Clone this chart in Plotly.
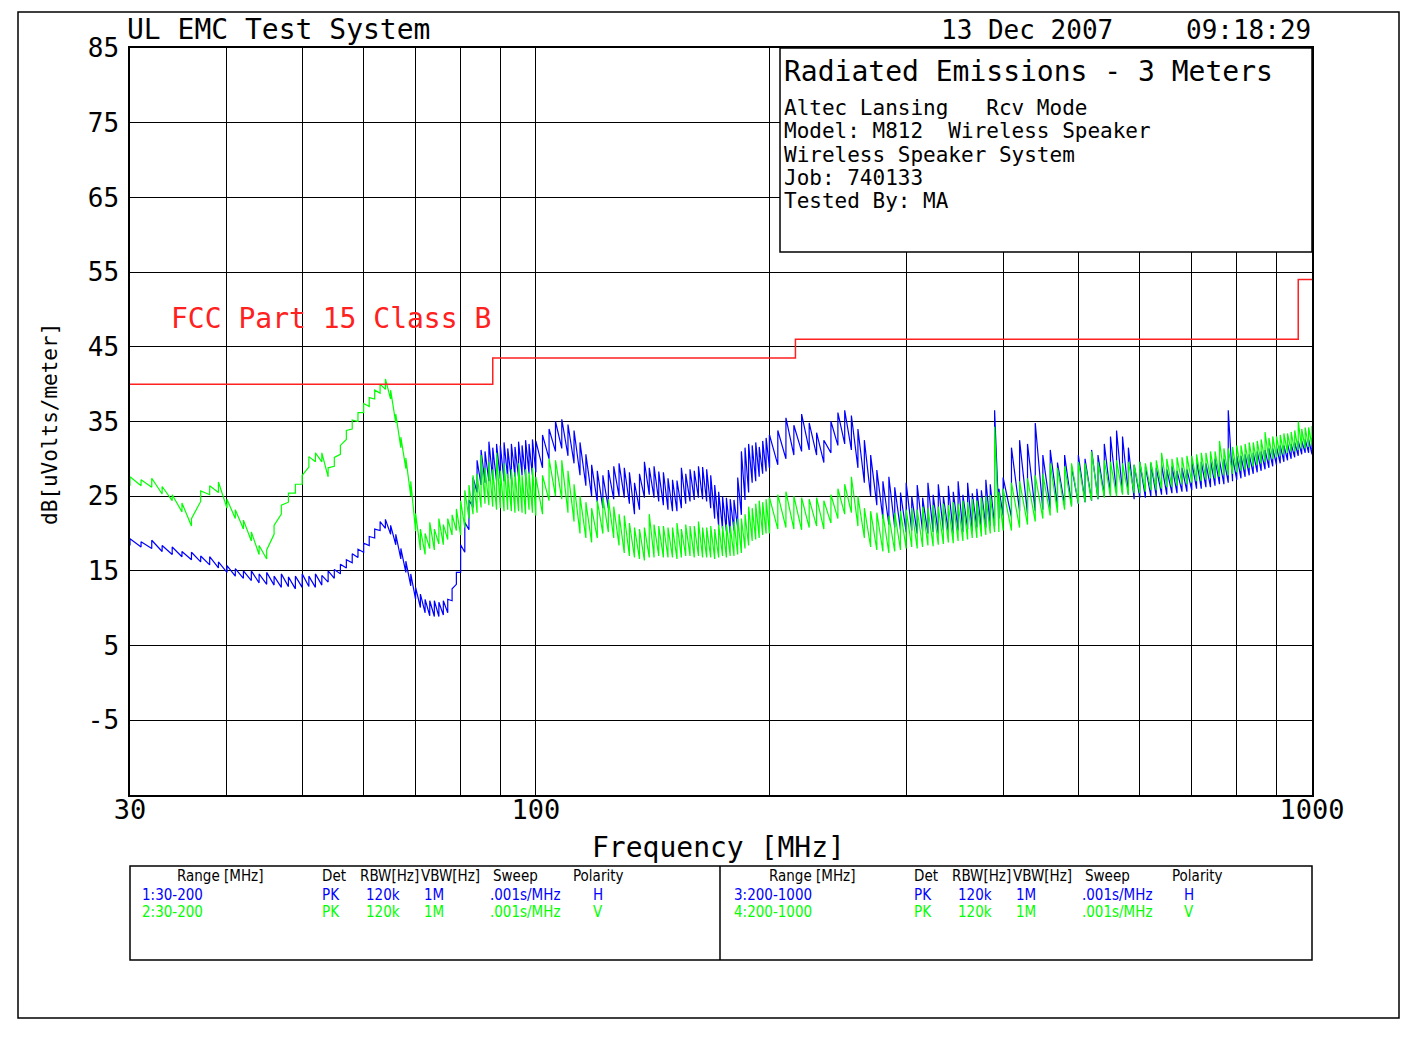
import plotly.graph_objects as go

# ---------------- DATA ----------------
# Range 1/2 : 30-200 MHz sweep (peak detector, min/max per frequency bin)
freq_low = [30, 31, 32, 33, 34, 35, 36, 37, 38, 39,
            40, 41, 42, 43, 44, 45, 46, 47, 48, 49,
            50, 51, 52, 53, 54, 55, 56, 57, 58, 59,
            60, 61, 62, 63, 64, 65, 66, 67, 68, 69,
            70, 71, 72, 73, 74, 75, 76, 77, 78, 79,
            80, 81, 82, 83, 84, 85, 86, 87, 88, 89,
            90, 91, 92, 93, 94, 95, 96, 97, 98, 99, 100,
            102, 104, 106, 108, 110, 112, 114, 116, 118, 120,
            122, 124, 126, 128, 130, 132, 134, 136, 138, 140,
            142, 144, 146, 148, 150, 152, 154, 156, 158, 160,
            162, 164, 166, 168, 170, 172, 174, 176, 178, 180,
            182, 184, 186, 188, 190, 192, 194, 196, 198, 200]

blue_low_max = [19.3, 18.9, 19.1, 18.4, 18.2, 17.6, 17.5, 17.0, 16.9, 16.2,
                15.7, 15.3, 15.0, 15.0, 14.6, 14.8, 14.3, 14.6, 14.2, 14.3,
                14.6, 14.3, 14.6, 14.4, 15.0, 15.2, 15.9, 16.5, 17.3, 17.9,
                18.7, 19.6, 20.6, 21.6, 21.9, 21.1, 19.9, 18.0, 16.3, 14.6,
                12.8, 11.9, 11.2, 11.0, 11.0, 10.8, 11.0, 11.2, 12.6, 14.8,
                18.5, 21.5, 24.5, 27.5, 29.8, 31.2, 31.0, 32.3, 31.5, 32.0,
                31.8, 32.2, 31.4, 32.0, 31.6, 32.3, 31.8, 32.5, 32.0, 32.6, 32.4,
                33.2, 34.0, 35.0, 35.3, 34.6, 33.8, 32.2, 30.6, 29.2, 28.4,
                27.8, 28.5, 29.0, 29.4, 28.8, 28.2, 26.8, 28.0, 29.6, 28.8,
                29.0, 28.3, 28.2, 27.4, 27.2, 27.1, 28.8, 28.0, 28.6, 28.4,
                29.0, 28.9, 28.6, 27.8, 26.5, 25.6, 25.0, 24.8, 24.6, 24.5,
                27.5, 31.0, 31.5, 32.0, 31.8, 32.2, 31.6, 32.4, 32.8, 33.2]

blue_low_min = [18.4, 18.2, 18.0, 17.6, 17.2, 16.9, 16.5, 16.2, 15.8, 15.4,
                14.8, 14.3, 14.0, 13.7, 13.4, 13.2, 13.1, 12.8, 12.9, 12.6,
                12.8, 12.9, 12.8, 13.1, 13.5, 14.0, 14.6, 15.4, 16.1, 16.8,
                17.5, 18.4, 19.4, 20.4, 20.7, 19.9, 18.5, 16.6, 14.8, 13.0,
                11.2, 10.1, 9.4, 9.0, 8.9, 8.9, 9.1, 9.4, 11.0, 13.2,
                14.8, 17.5, 20.5, 23.5, 25.5, 26.5, 26.8, 27.0, 27.2, 27.0,
                27.3, 27.0, 27.4, 27.2, 27.6, 27.5, 27.8, 27.6, 28.0, 27.8, 28.2,
                28.8, 30.0, 31.0, 31.4, 30.4, 29.4, 27.8, 26.4, 25.0, 24.2,
                23.4, 23.4, 24.6, 25.0, 24.8, 24.0, 22.6, 23.2, 24.8, 25.2,
                24.8, 24.3, 23.8, 23.2, 23.0, 23.0, 23.4, 24.0, 24.3, 24.5,
                24.8, 24.6, 24.3, 23.4, 22.0, 21.0, 20.6, 20.3, 20.0, 20.4,
                20.8, 22.5, 24.5, 25.5, 26.8, 27.0, 27.6, 28.0, 28.3, 28.8]

green_low_max = [27.6, 27.2, 27.4, 26.3, 25.2, 24.1, 22.0, 25.7, 26.4, 26.9,
                 24.6, 23.2, 21.8, 20.2, 18.4, 17.8, 21.1, 23.8, 25.4, 26.6,
                 27.8, 30.3, 30.8, 30.8, 28.8, 30.2, 31.8, 33.8, 35.2, 36.2,
                 37.4, 38.2, 39.2, 40.0, 40.7, 39.2, 36.0, 32.9, 30.1, 27.0,
                 22.7, 20.6, 20.0, 21.5, 20.6, 22.0, 21.2, 22.0, 22.5, 23.3,
                 24.4, 25.8, 26.5, 27.8, 28.0, 30.5, 28.8, 29.6, 28.6, 30.8,
                 28.4, 29.4, 28.0, 28.6, 28.2, 29.4, 27.8, 28.6, 28.2, 28.8, 27.6,
                 27.8, 30.0, 29.8, 29.8, 28.4, 26.6, 25.0, 24.2, 23.4, 24.4,
                 24.8, 24.6, 23.6, 22.6, 22.4, 21.4, 20.8, 20.6, 20.8, 22.6,
                 21.2, 21.0, 21.0, 20.8, 20.8, 21.4, 20.6, 21.2, 21.0, 21.0,
                 21.6, 20.8, 20.8, 21.0, 20.6, 21.2, 21.0, 21.2, 21.0, 21.6,
                 22.0, 22.0, 22.6, 23.6, 23.4, 24.0, 24.4, 24.2, 24.6, 24.8]

green_low_min = [26.4, 26.4, 26.2, 25.3, 24.4, 22.9, 21.0, 24.3, 25.2, 25.5,
                 23.4, 22.0, 20.6, 19.0, 17.2, 16.6, 19.9, 22.6, 24.2, 25.4,
                 26.6, 28.9, 29.6, 29.6, 27.6, 29.0, 30.6, 32.6, 34.0, 35.0,
                 36.2, 37.0, 38.0, 38.8, 39.3, 38.0, 34.8, 31.5, 28.7, 25.0,
                 20.3, 17.8, 17.2, 18.0, 17.8, 18.6, 18.5, 19.2, 19.8, 20.4,
                 19.8, 20.8, 22.0, 22.6, 22.8, 23.5, 24.0, 23.8, 23.6, 23.2,
                 23.4, 23.0, 23.2, 23.0, 22.8, 23.0, 22.8, 22.6, 23.2, 22.8, 22.4,
                 22.6, 24.4, 25.0, 24.6, 22.8, 21.6, 20.0, 19.4, 18.8, 19.4,
                 20.0, 20.2, 19.4, 18.4, 17.4, 17.0, 16.8, 16.6, 16.4, 16.8,
                 16.8, 17.0, 16.8, 16.8, 16.8, 16.6, 16.8, 17.0, 17.0, 16.8,
                 17.0, 16.8, 16.8, 16.8, 16.6, 16.8, 17.0, 16.8, 17.0, 17.0,
                 17.2, 17.4, 18.0, 18.4, 19.0, 19.2, 19.4, 19.8, 20.0, 20.0]

# Range 3/4 : 200-1000 MHz sweep
freq_high = [200, 205, 210, 215, 220, 225, 230, 235, 240, 245,
             250, 255, 260, 265, 270, 275, 280, 285, 290, 295,
             300, 305, 310, 315, 320, 325, 330, 335, 340, 345,
             350, 355, 360, 365, 370, 375, 380, 385, 390, 395, 400,
             410, 420, 430, 440, 450, 460, 470, 480, 490, 500,
             510, 520, 530, 540, 550, 560, 570, 580, 590, 600,
             610, 620, 630, 640, 650, 660, 670, 680, 690, 700,
             710, 720, 730, 740, 750, 760, 770, 780, 790, 800,
             810, 820, 830, 840, 850, 860, 870, 880, 890, 900,
             910, 920, 930, 940, 950, 960, 970, 980, 990, 1000]

blue_high_max = [33.2, 33.8, 35.5, 34.5, 36.0, 34.8, 33.5, 32.5, 35.0, 36.2,
                 36.5, 35.8, 34.0, 32.5, 30.5, 28.5, 27.0, 27.6, 26.2, 25.5,
                 26.8, 25.0, 26.5, 24.8, 26.8, 25.2, 26.6, 25.0, 26.4, 25.6,
                 27.0, 25.2, 26.8, 25.4, 26.0, 25.8, 27.2, 26.6, 36.5, 26.0, 27.5,
                 31.5, 32.5, 32.0, 34.8, 30.5, 31.2, 29.5, 30.5, 29.0, 30.5,
                 30.0, 31.2, 30.5, 32.0, 33.0, 33.8, 33.0, 31.5, 29.2, 29.6,
                 29.0, 29.4, 28.8, 29.2, 28.6, 29.0, 28.4, 28.8, 28.6, 29.6,
                 29.8, 29.6, 29.4, 29.8, 30.0, 29.8, 30.0, 36.5, 30.2, 30.4,
                 30.4, 30.6, 30.6, 30.8, 31.0, 31.0, 31.2, 31.4, 31.4, 31.6,
                 31.8, 31.8, 32.0, 32.0, 32.2, 32.4, 32.4, 32.6, 32.6, 32.8]

blue_high_min = [28.8, 29.2, 30.0, 30.5, 31.0, 31.2, 30.5, 29.5, 30.8, 31.8,
                 32.0, 31.2, 28.8, 26.8, 25.0, 23.8, 22.0, 21.2, 20.8, 20.5,
                 20.2, 20.4, 20.0, 20.3, 20.0, 20.2, 20.0, 20.4, 20.2, 20.0,
                 20.4, 20.2, 20.6, 20.3, 20.8, 20.5, 20.8, 21.0, 21.0, 22.0, 22.4,
                 22.2, 23.0, 22.6, 23.0, 23.2, 23.4, 23.6, 23.8, 23.8, 24.0,
                 24.2, 24.4, 24.6, 25.0, 25.2, 25.4, 25.4, 25.2, 24.6, 24.8,
                 24.8, 25.0, 25.0, 25.2, 25.2, 25.4, 25.4, 25.6, 25.6, 25.8,
                 26.0, 26.0, 26.2, 26.2, 26.4, 26.6, 26.6, 26.8, 27.0, 27.2,
                 27.4, 27.6, 27.8, 28.0, 28.2, 28.4, 28.6, 28.8, 29.0, 29.2,
                 29.4, 29.6, 29.8, 30.0, 30.2, 30.4, 30.6, 30.8, 30.8, 30.6]

green_high_max = [24.8, 25.2, 25.6, 25.0, 24.8, 24.6, 24.8, 24.4, 25.2, 26.0,
                  26.6, 27.6, 25.0, 23.4, 23.0, 22.8, 22.6, 22.4, 22.8, 23.0,
                  23.2, 23.4, 23.2, 23.6, 23.4, 23.8, 23.6, 24.0, 23.8, 24.2,
                  24.0, 24.4, 24.2, 24.6, 24.4, 24.8, 25.0, 25.2, 34.3, 25.6, 26.0,
                  26.8, 27.0, 27.4, 27.8, 28.0, 29.4, 28.8, 29.0, 29.4, 29.6,
                  29.4, 31.0, 29.6, 29.8, 29.6, 29.8, 29.4, 29.6, 29.2, 29.6,
                  29.4, 29.6, 29.8, 30.8, 30.0, 30.0, 30.2, 30.2, 30.4, 30.4,
                  30.6, 30.8, 30.8, 31.0, 31.0, 32.4, 31.4, 31.4, 31.6, 31.8,
                  31.8, 32.0, 32.2, 32.2, 32.4, 32.6, 33.6, 32.8, 33.0, 33.0,
                  33.2, 33.4, 33.4, 33.6, 33.8, 35.0, 34.0, 34.2, 34.2, 34.4]

green_high_min = [20.4, 20.6, 20.8, 20.6, 20.5, 20.8, 21.0, 20.6, 21.4, 22.0,
                  22.6, 22.8, 21.0, 19.4, 18.2, 17.8, 17.6, 17.4, 17.6, 17.8,
                  18.0, 18.2, 18.0, 18.2, 18.4, 18.3, 18.5, 18.6, 18.8, 18.7,
                  19.0, 19.0, 19.2, 19.4, 19.4, 19.6, 19.8, 20.0, 20.2, 20.2, 20.4,
                  20.4, 20.8, 21.2, 21.6, 22.0, 22.4, 22.8, 23.2, 23.6, 24.0,
                  24.2, 24.4, 24.6, 24.8, 25.0, 25.0, 25.2, 25.2, 25.4, 25.4,
                  25.6, 25.8, 25.8, 26.0, 26.2, 26.2, 26.4, 26.6, 26.6, 26.8,
                  27.0, 27.0, 27.2, 27.4, 27.4, 27.6, 27.8, 27.8, 28.0, 28.2,
                  28.4, 28.6, 28.8, 29.0, 29.2, 29.4, 29.6, 29.8, 30.0, 30.2,
                  30.4, 30.6, 30.8, 31.0, 31.0, 31.2, 31.4, 31.4, 31.6, 31.8]

# FCC Part 15 Class B limit (step function)
limit_freq = [30, 88, 216, 960, 1000]
limit_level = [40, 43.5, 46, 54, 54]

y_tick_vals = [85, 75, 65, 55, 45, 35, 25, 15, 5, -5]
y_tick_text = ["85", "75", "65", "55", "45", "35", "25", "15", "5", "-5"]
x_tick_vals = [30, 40, 50, 60, 70, 80, 90, 100, 200, 300, 400, 500, 600, 700, 800, 900, 1000]
x_tick_text = ["30", "", "", "", "", "", "", "100", "", "", "", "", "", "", "", "", "1000"]

info_lines = ["Altec Lansing   Rcv Mode", "Model: M812  Wireless Speaker",
              "Wireless Speaker System", "Job: 740133", "Tested By: MA"]

table_header = ["Range [MHz]", "Det", "RBW[Hz]", "VBW[Hz]", "Sweep", "Polarity"]
table_rows_left = [["1:30-200", "PK", "120k", "1M", ".001s/MHz", "H"],
                   ["2:30-200", "PK", "120k", "1M", ".001s/MHz", "V"]]
table_rows_right = [["3:200-1000", "PK", "120k", "1M", ".001s/MHz", "H"],
                    ["4:200-1000", "PK", "120k", "1M", ".001s/MHz", "V"]]

# ---------------- LAYOUT HELPERS ----------------
OFF = 8                      # page body margin of the html page
L, R, T, B = 130, 1312, 48, 795   # plot area in page pixels
W, H = 1421 - 2 * OFF, 1060 - 2 * OFF


def px(x):
    return (x - L) / (R - L)


def py(y):
    return (B - y) / (B - T)


def minmax_path(freqs, lo, hi):
    # each frequency bin drawn as a vertical stroke from its min to its max
    xs, ys = [], []
    for f, a, b in zip(freqs, lo, hi):
        xs += [f, f]
        ys += [a, b]
    return xs, ys


MONO = "DejaVu Sans Mono"
NARROW = "Liberation Sans Narrow, DejaVu Sans Condensed, Arial Narrow, sans-serif"
BLUE = "#0000FF"
GREEN = "#00FF00"
RED = "#FF2020"

fig = go.Figure()
for f, lo, hi, col in [(freq_low, blue_low_min, blue_low_max, BLUE),
                       (freq_low, green_low_min, green_low_max, GREEN),
                       (freq_high, blue_high_min, blue_high_max, BLUE),
                       (freq_high, green_high_min, green_high_max, GREEN)]:
    xs, ys = minmax_path(f, lo, hi)
    fig.add_trace(go.Scatter(x=xs, y=ys, mode="lines",
                             line=dict(color=col, width=1.2), showlegend=False))
fig.add_trace(go.Scatter(x=limit_freq, y=limit_level, mode="lines",
                         line=dict(color=RED, width=1.5, shape="hv"), showlegend=False))

shapes = []
shapes.append(dict(type="rect", xref="paper", yref="paper",
                   x0=px(18), x1=px(1399), y0=py(1018), y1=py(12),
                   line=dict(color="black", width=1.5), layer="above"))
shapes.append(dict(type="rect", xref="paper", yref="paper",
                   x0=px(780), x1=px(1312), y0=py(252), y1=py(48),
                   line=dict(color="black", width=1.5), fillcolor="white", layer="above"))
shapes.append(dict(type="rect", xref="paper", yref="paper",
                   x0=px(130), x1=px(1312), y0=py(960), y1=py(866),
                   line=dict(color="black", width=1.5), layer="above"))
shapes.append(dict(type="line", xref="paper", yref="paper",
                   x0=px(720), x1=px(720), y0=py(960), y1=py(866),
                   line=dict(color="black", width=1.5), layer="above"))

ann = []


def text(x, y, s, size, color="black", font=MONO, xanchor="left", angle=0):
    ann.append(dict(x=px(x), y=py(y), xref="paper", yref="paper", text=s,
                    showarrow=False, xanchor=xanchor, yanchor="middle",
                    textangle=angle, borderpad=0,
                    font=dict(family=font, size=size, color=color)))


text(126, 30, "UL EMC Test System", 28)
text(940, 30, "13 Dec 2007", 26)
text(1312, 30, "09:18:29", 26, xanchor="right")
text(783, 71, "Radiated Emissions - 3 Meters", 28)
for i, line in enumerate(info_lines):
    text(783, 108 + i * 23.3, line, 21)
text(170, 318, "FCC Part 15 Class B", 28, color=RED)
text(718, 847, "Frequency [MHz]", 28, xanchor="center")
text(50, 424, "dB[uVolts/meter]", 21, angle=-90, xanchor="center")

col_left = [220, 334, 389, 450, 515, 598]
col_right = [812, 926, 981, 1042, 1107, 1197]
val_left = [141, 321, 365, 423, 489, 598]
val_right = [733, 913, 957, 1015, 1081, 1189]
for cols, vals, rows in [(col_left, val_left, table_rows_left),
                         (col_right, val_right, table_rows_right)]:
    for c, h in zip(cols, table_header):
        text(c, 876, h, 15, font=NARROW, xanchor="center")
    for r, (row, colr) in enumerate(zip(rows, [BLUE, GREEN])):
        for j, (v, s) in enumerate(zip(vals, row)):
            text(v, 895 + r * 17, s, 15, color=colr, font=NARROW,
                 xanchor="left" if j < 5 else "center")

fig.update_layout(
    width=W, height=H,
    margin=dict(l=L - OFF, r=W - (R - OFF), t=T - OFF, b=H - (B - OFF), autoexpand=False),
    paper_bgcolor="white", plot_bgcolor="white",
    shapes=shapes, annotations=ann,
    xaxis=dict(type="log", range=[1.4771212547, 3.0], tickvals=x_tick_vals,
               ticktext=x_tick_text, showgrid=True, gridcolor="black", gridwidth=1.3,
               showline=True, linecolor="black", linewidth=1.5, mirror=True,
               zeroline=False, ticks="", ticklabelstandoff=-10,
               tickfont=dict(family=MONO, size=27, color="black")),
    yaxis=dict(range=[-15, 85], tickvals=y_tick_vals, ticktext=y_tick_text,
               showgrid=True, gridcolor="black", gridwidth=1.3,
               showline=True, linecolor="black", linewidth=1.5, mirror=True,
               zeroline=False, ticks="", ticklabelstandoff=4,
               tickfont=dict(family=MONO, size=26, color="black")),
)

fig.write_html("out.html")
